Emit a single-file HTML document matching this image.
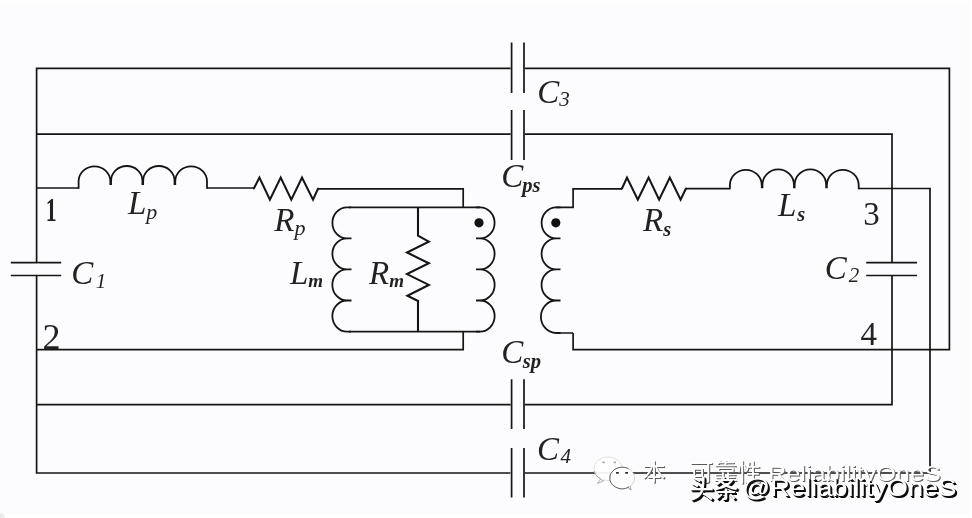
<!DOCTYPE html>
<html lang="zh">
<head>
<meta charset="utf-8">
<title>Transformer equivalent circuit</title>
<style>
  html, body { margin: 0; padding: 0; background: #fcfcfe; }
  body { width: 972px; height: 518px; overflow: hidden; position: relative; }
  #stage { position: absolute; left: 0; top: 0; width: 972px; height: 518px; background: #fcfcfe; overflow: hidden; }
  svg { position: absolute; left: 0; top: 0; display: block; will-change: transform; transform: translateZ(0); }
  .w { fill: none; stroke: #151515; stroke-width: 1.7; stroke-linecap: butt; stroke-linejoin: miter; }
  .r { fill: none; stroke: #151515; stroke-width: 2.1; stroke-linejoin: miter; stroke-miterlimit: 10; }
  .c { fill: none; stroke: #151515; stroke-width: 1.8; stroke-linecap: butt; stroke-linejoin: round; }
  .t { font-family: "Liberation Serif", serif; fill: #222; }
  .it { font-style: italic; }
  .wm { font-family: "Liberation Sans", "Noto Sans CJK SC", sans-serif; }
</style>
</head>
<body>
<div id="stage">
<div style="position:absolute;left:0;top:0;width:972px;height:6px;background:linear-gradient(#fff,#fcfcfe)"></div>
<div style="position:absolute;left:0;bottom:0;width:972px;height:4px;background:#fefefe"></div>
<div style="position:absolute;right:0;top:0;width:2px;height:518px;background:#fff"></div>
<div style="position:absolute;left:-5px;bottom:-5px;width:10px;height:10px;border-radius:50%;background:#ececee"></div>
<svg width="972" height="518" viewBox="0 0 972 518">
  <!-- outer loop (C3) -->
  <path class="w" d="M510.6 68.4 H36.6 V473 H510.4"/>
  <path class="w" d="M525 68.4 H949.4 V349.7 H573.1 V333"/>
  <!-- C3 plates -->
  <path class="w" d="M511.6 42.5 V93 M524 42.5 V93"/>
  <!-- Cps loop -->
  <path class="w" d="M36.6 134.2 H510.6 M525 134.2 H892 V262.7 M892 275.5 V404.6 H525 M510.6 404.6 H36.6"/>
  <path class="w" d="M511.6 110 V160 M524 110 V160"/>
  <!-- Csp plates -->
  <path class="w" d="M511.6 379.3 V429 M524 379.3 V429"/>
  <!-- C4 plates + bottom line -->
  <path class="w" d="M511.6 448 V497.5 M524 448 V497.5"/>
  <path class="w" d="M525 473 H930 V188.4"/>
  <!-- C1 -->
  <path class="w" d="M10.8 262.7 H61.2 M10.8 275.5 H61.2" />
  <rect x="35" y="263.6" width="4" height="11" fill="#fcfcfe"/>
  <!-- C2 -->
  <path class="w" d="M866.2 262.7 H917 M866.2 275.5 H917" />
  <!-- node 1 wire, Lp, Rp -->
  <path class="w" d="M36.6 188 H78.6"/>
  <path class="c" d="M78.60 188.8 V181 A15.88 15 0 0 1 110.35 181 V185 M111.05 185 V181 A15.70 15 0 0 1 142.45 181 V185 M143.15 185 V181 A15.70 15 0 0 1 174.55 181 V185 M175.25 185 V181 A15.88 15 0 0 1 207.00 181 V188.8"/>
  <path class="w" d="M207 188 H253.6"/>
  <path class="r" d="M253 188.2 H254 L259.4 177.6 L269.9 199.6 L280.7 177.6 L291.3 199.6 L302 177.6 L313 199.6 L318 188.8 H319"/>
  <path class="w" d="M318.5 188.8 H463.2 V207.4"/>
  <!-- node 2 wire -->
  <path class="w" d="M36.6 349.7 H463.2 V331.6"/>
  <!-- parallel branch box -->
  <path class="w" d="M349 207.4 H480 M349 331.6 H480"/>
  <!-- Lm coil (bumps to the left) -->
  <path class="c" d="M351 207.4 H347 A14.6 15.5 0 0 0 347 238.4 H351.5 M351.5 238.4 H347 A14.6 15.5 0 0 0 347 269.4 H351.5 M351.5 269.4 H347 A14.6 15.5 0 0 0 347 300.5 H351.5 M351.5 300.5 H347 A14.6 15.5 0 0 0 347 331.6 H351"/>
  <!-- Rm -->
  <path class="r" d="M418 207.4 V235.6 L428.8 241.6 L407 252.5 L428.8 263.2 L407 274.1 L428.8 284.9 L407.4 295.8 L418 301 V331.6"/>
  <!-- primary coil (bumps to the right) -->
  <path class="c" d="M476 207.4 H480 A14.6 15.5 0 0 1 480 238.4 H476 M476 238.4 H480 A14.6 15.5 0 0 1 480 269.4 H476 M476 269.4 H480 A14.6 15.5 0 0 1 480 300.5 H476 M476 300.5 H480 A14.6 15.5 0 0 1 480 331.6 H476"/>
  <circle cx="479" cy="222.8" r="4.6" fill="#111"/>
  <!-- secondary coil (bumps to the left) -->
  <path class="w" d="M573.1 188.8 V207.4 H556 M573.1 333 H556"/>
  <path class="c" d="M560.5 207.4 H556.2 A14.6 15.5 0 0 0 556.2 238.4 H560.5 M560.5 238.4 H556.2 A14.6 15.5 0 0 0 556.2 269.4 H560.5 M560.5 269.4 H556.2 A14.6 15.5 0 0 0 556.2 300.5 H560.5 M560.5 300.5 H556.2 A14.6 15.5 0 0 0 556.2 333 H560.5"/>
  <circle cx="555.8" cy="222.8" r="4.6" fill="#111"/>
  <!-- secondary wire, Rs, Ls -->
  <path class="w" d="M572.3 188.8 H622"/>
  <path class="r" d="M621 188.4 H622 L627 177.6 L637.8 199.6 L648.6 177.6 L659.1 199.6 L669.8 177.6 L680.6 199.6 L685.8 188.8 H687"/>
  <path class="w" d="M686.5 188.6 H729.9"/>
  <path class="c" d="M729.90 189.3 V185 A15.93 15.6 0 0 1 761.75 185 V188.2 M762.45 188.2 V185 A15.75 15.6 0 0 1 793.95 185 V188.2 M794.65 188.2 V185 A15.75 15.6 0 0 1 826.15 185 V188.2 M826.85 188.2 V185 A15.93 15.6 0 0 1 858.70 185 V189.3"/>
  <path class="w" d="M858.7 188.5 H930.8"/>

  <!-- labels -->
  <text class="t" transform="translate(45.7 220.7) scale(0.66 1)" font-size="33" font-weight="bold">1</text>
  <text class="t" x="42.5" y="349" font-size="36">2</text>
  <text class="t" x="863.3" y="225" font-size="33">3</text>
  <text class="t" x="860.5" y="344.6" font-size="33">4</text>

  <text class="t it" x="128" y="214.4" font-size="33">L<tspan font-size="22" dy="5">p</tspan></text>
  <text class="t it" x="274.3" y="230.5" font-size="33">R<tspan font-size="22" dy="4.7">p</tspan></text>
  <text class="t it" x="290" y="284.3" font-size="33">L<tspan font-size="19" dy="3" font-weight="bold">m</tspan></text>
  <text class="t it" x="369" y="283.8" font-size="33">R<tspan font-size="19" dy="3" font-weight="bold">m</tspan></text>
  <text class="t it" x="71.3" y="284" font-size="33">C<tspan font-size="21" dx="2.5" dy="3.5">1</tspan></text>
  <text class="t it" x="824.7" y="279.3" font-size="33">C<tspan font-size="21" dx="2" dy="3">2</tspan></text>
  <text class="t it" x="537.2" y="103.2" font-size="33">C<tspan font-size="21" dy="3">3</tspan></text>
  <text class="t it" x="537" y="460.2" font-size="33">C<tspan font-size="21" dx="1.5" dy="3">4</tspan></text>
  <text class="t it" x="501.2" y="187.2" font-size="33">C<tspan font-size="20.5" dx="-1" dy="4.6" font-weight="bold">ps</tspan></text>
  <text class="t it" x="501.2" y="363.4" font-size="33">C<tspan font-size="20.5" dx="-0.5" dy="4.4" font-weight="bold">sp</tspan></text>
  <text class="t it" x="643" y="230.8" font-size="33">R<tspan font-size="20.5" dy="4.7" font-weight="bold">s</tspan></text>
  <text class="t it" x="778" y="216" font-size="33">L<tspan font-size="20.5" dx="1" dy="5" font-weight="bold">s</tspan></text>

  <!-- WeChat icon watermark -->
  <g>
    <path d="M600 479.5 L597.5 483.5 L604 480.5 Z" fill="#fff" stroke="#9a9a9a" stroke-width="0.8"/>
    <ellipse cx="608" cy="468.8" rx="14" ry="11.8" fill="#fff" fill-opacity="0.93" stroke="#d8d8d8" stroke-width="0.8"/>
    <path d="M594.2 471 A14 11.8 0 0 0 600.5 478.8" fill="none" stroke="#9a9a9a" stroke-width="0.9"/>
    <path d="M602.4 462.4 h2.4 M613.6 462.4 h2.4" stroke="#aaa" stroke-width="1.6" fill="none"/>
    <path d="M627 487 L631.2 490 L629.6 485 Z" fill="#fff" stroke="#888" stroke-width="0.8"/>
    <ellipse cx="622.2" cy="478" rx="12.4" ry="10.8" fill="#fff" stroke="#c8c8c8" stroke-width="0.8"/>
    <path d="M628.5 468.7 A12.4 10.8 0 0 0 610 476 A12.4 10.8 0 0 0 629 487" fill="none" stroke="#666" stroke-width="1"/>
    <path d="M616 472.8 h2.8 M625.2 472.8 h2.8" stroke="#333" stroke-width="1.8" fill="none"/>
  </g>
  <!-- watermark text: white with shadow -->
  <defs>
    <filter id="sh1" x="-5%" y="-30%" width="110%" height="170%" color-interpolation-filters="sRGB">
      <feOffset in="SourceAlpha" dx="1" dy="1" result="o"/>
      <feFlood flood-color="#5a5a5a"/><feComposite in2="o" operator="in" result="s"/>
      <feMerge><feMergeNode in="s"/><feMergeNode in="SourceGraphic"/></feMerge>
    </filter>
    <filter id="sh2" x="-5%" y="-30%" width="110%" height="170%" color-interpolation-filters="sRGB">
      <feOffset in="SourceAlpha" dx="1.7" dy="1.7" result="o2"/>
      <feOffset in="SourceAlpha" dx="0.85" dy="0.85" result="o1"/>
      <feFlood flood-color="#050505"/><feComposite in2="o2" operator="in" result="s2"/>
      <feFlood flood-color="#111"/><feComposite in2="o1" operator="in" result="s1"/>
      <feMerge><feMergeNode in="s2"/><feMergeNode in="s1"/><feMergeNode in="SourceGraphic"/></feMerge>
    </filter>
  </defs>
  <g class="wm" font-size="22" fill="#fff" filter="url(#sh1)">
    <text x="642.4" y="480.3" font-size="23">本</text>
    <text x="689.6" y="480.6" font-size="23.8">可靠性</text>
    <text transform="translate(768 481) scale(1.15 1)">ReliabilityOneS</text>
  </g>
  <g class="wm" font-size="24" fill="#fff" filter="url(#sh2)">
    <text x="689.2" y="498.4" font-size="24.6" font-weight="500">头条</text>
    <text transform="translate(742.6 496) scale(1.135 1)">@ReliabilityOneS</text>
  </g>
</svg>
</div>
</body>
</html>
